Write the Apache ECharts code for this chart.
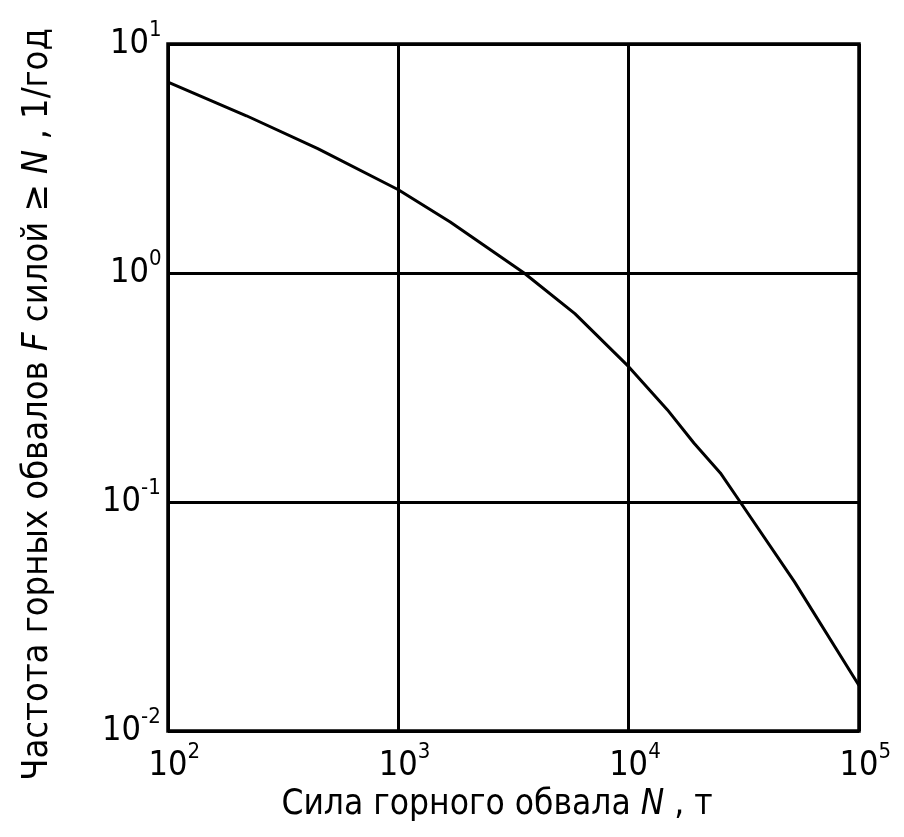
<!DOCTYPE html>
<html>
<head>
<meta charset="utf-8">
<script src="https://cdn.jsdelivr.net/npm/echarts@6/dist/echarts.min.js"></script>
<style>
html,body{margin:0;padding:0;background:#fff;}
#c{width:904px;height:837px;}
</style>
</head>
<body>
<div id="c"></div>
<script>
// Rockfall magnitude N (tonnes) and annual frequency F of rockfalls >= N
const magnitudes = [100, 219, 447, 1000, 1680, 3515, 5840, 10000, 14710, 19190, 25000, 30500, 52400, 100000];
const frequencies = [6.81, 4.86, 3.49, 2.31, 1.67, 1.0, 0.665, 0.39, 0.253, 0.181, 0.134, 0.1, 0.0449, 0.0158];
const xTickExponents = [2, 3, 4, 5];
const yTickExponents = [-2, -1, 0, 1];
const xTitleParts = ['Сила горного обвала ', 'N', ' , т'];
const yTitleParts = ['Частота горных обвалов ', 'F', ' силой ≥ ', 'N', ' , 1/год'];

const FONT = '"Liberation Sans Narrow", "DejaVu Sans Condensed", "Liberation Sans", sans-serif';

// superscript drawn on a first (short) line, the base "10" on the second line
function xLabel(v) {
  const e = Math.round(Math.log10(v));
  return '{p| }{sp| }{s|' + e + '}\n{p| }{b|10}{q| }';
}
function yLabel(v) {
  const e = Math.round(Math.log10(v));
  const k = e < 0 ? 'n' : 'u';
  return '{sp| }{s' + k + '|' + e + '}\n{b|10}{q' + k + '| }\n{z| }';
}
const SUP = { fontFamily: FONT, fontSize: 22, color: '#000', lineHeight: 8, align: 'left' };
const xRich = {
  p: { width: 24, lineHeight: 8, align: 'left' },
  sp: { width: 39, lineHeight: 8, align: 'left' },
  s: Object.assign({ width: 24 }, SUP),
  b: { fontFamily: FONT, fontSize: 34, color: '#000', lineHeight: 20, width: 39, align: 'left' },
  q: { width: 24, lineHeight: 8, align: 'left' }
};
const yRich = {
  sp: { width: 39, lineHeight: 8, align: 'left' },
  su: Object.assign({ width: 13 }, SUP),
  sn: Object.assign({ width: 21 }, SUP),
  b: { fontFamily: FONT, fontSize: 34, color: '#000', lineHeight: 20, width: 39, align: 'left' },
  qu: { width: 13, lineHeight: 8, align: 'left' },
  qn: { width: 21, lineHeight: 8, align: 'left' },
  z: { width: 1, lineHeight: 8, align: 'left' }
};
const titleRich = {
  n: { fontFamily: FONT, fontSize: 35, color: '#000' },
  i: { fontFamily: FONT, fontSize: 35, color: '#000', fontStyle: 'italic' }
};
const yTitleRich = {
  n: { fontFamily: FONT, fontSize: 36, color: '#000' },
  i: { fontFamily: FONT, fontSize: 36, color: '#000', fontStyle: 'italic' }
};

const chart = echarts.init(document.getElementById('c'), null, { renderer: 'canvas' });
chart.setOption({
  animation: false,
  backgroundColor: '#fff',
  grid: {
    left: 168, right: 45, top: 44, bottom: 106,
    containLabel: false, outerBoundsMode: 'none',
    show: true, borderColor: '#000', borderWidth: 3.5, backgroundColor: 'transparent'
  },
  xAxis: {
    type: 'log', logBase: 10,
    min: Math.pow(10, xTickExponents[0]), max: Math.pow(10, xTickExponents[xTickExponents.length - 1]),
    axisLine: { show: false },
    axisTick: { show: false },
    minorTick: { show: false },
    splitLine: { show: true, lineStyle: { color: '#000', width: 3 } },
    axisLabel: { formatter: xLabel, rich: xRich, margin: 17, showMinLabel: true, showMaxLabel: true },
    name: '{n|' + xTitleParts[0] + '}{i|' + xTitleParts[1] + '}{n|' + xTitleParts[2] + '}',
    nameLocation: 'middle', nameGap: 55,
    nameTextStyle: { rich: titleRich, padding: [0, 33, 0, 0] }
  },
  yAxis: {
    type: 'log', logBase: 10,
    min: Math.pow(10, yTickExponents[0]), max: Math.pow(10, yTickExponents[yTickExponents.length - 1]),
    axisLine: { show: false },
    axisTick: { show: false },
    minorTick: { show: false },
    splitLine: { show: true, lineStyle: { color: '#000', width: 3 } },
    axisLabel: { formatter: yLabel, rich: yRich, margin: 6, showMinLabel: true, showMaxLabel: true },
    name: '{n|' + yTitleParts[0] + '}{i|' + yTitleParts[1] + '}{n|' + yTitleParts[2] + '}{i|' + yTitleParts[3] + '}{n|' + yTitleParts[4] + '}',
    nameLocation: 'middle', nameGap: 112, nameRotate: 90,
    nameTextStyle: { rich: yTitleRich, padding: [0, 34, 0, 0] }
  },
  series: [{
    type: 'line',
    data: magnitudes.map((m, i) => [m, frequencies[i]]),
    showSymbol: false,
    smooth: false,
    lineStyle: { color: '#000', width: 3 }
  }]
});
</script>
</body>
</html>
